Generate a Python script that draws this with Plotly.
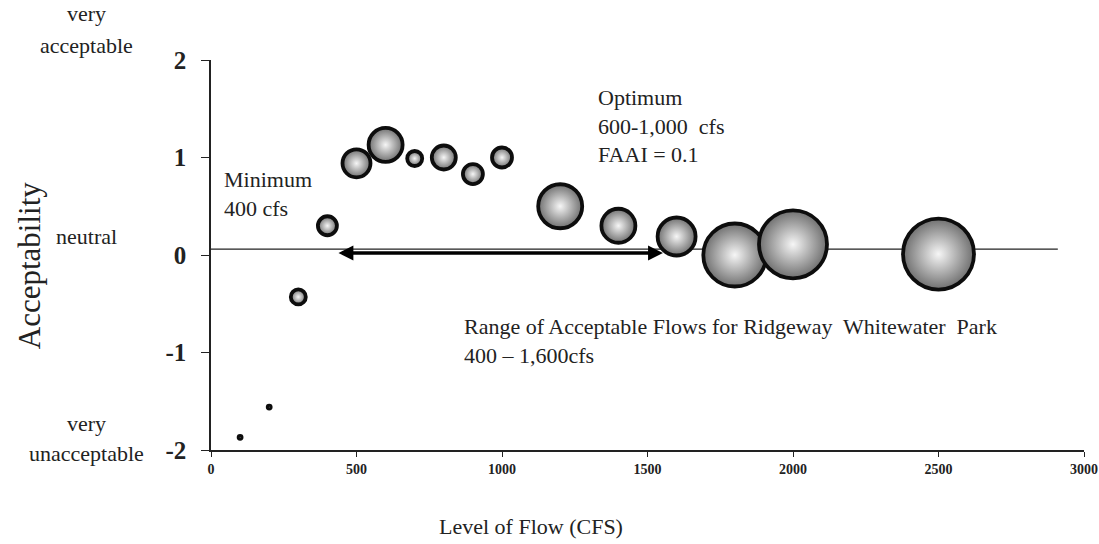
import plotly.graph_objects as go

flow_cfs = [100, 200, 300, 400, 500, 600, 700, 800, 900, 1000, 1200, 1400, 1600, 1800, 2000, 2500]
acceptability = [-1.87, -1.56, -0.43, 0.30, 0.94, 1.13, 0.99, 1.00, 0.83, 1.00, 0.50, 0.30, 0.19, 0.00, 0.11, 0.01]
bubble_value = [3, 3, 15, 19, 28, 34, 15, 24, 20, 20, 44, 34, 38, 63, 68, 71]

x_ticks = [0, 500, 1000, 1500, 2000, 2500, 3000]
y_ticks = [-2, -1, 0, 1, 2]

SERIF = "Liberation Serif, Times New Roman, serif"
TXT = "#222222"

fig = go.Figure()
fig.add_trace(go.Scatter(
    x=flow_cfs, y=acceptability, mode="markers",
    marker=dict(
        size=bubble_value, sizemode="diameter", sizeref=1,
        color="#6f6f6f",
        gradient=dict(type="radial", color="#f6f6f6"),
        line=dict(color="#0d0d0d", width=3.8),
        opacity=1,
    ),
    hoverinfo="x+y", showlegend=False,
))

# neutral reference line
fig.add_shape(type="line", xref="x", yref="y", x0=0, x1=2910, y0=0.06, y1=0.06,
              line=dict(color="#222222", width=1.2), layer="below")

# double arrow for acceptable range
fig.add_annotation(x=1553, y=0.02, ax=433, ay=0.02, xref="x", yref="y", axref="x", ayref="y",
                   showarrow=True, arrowhead=2, arrowside="end+start", arrowwidth=3.5,
                   arrowsize=0.85, arrowcolor="#000000", text="")

side_font = dict(family=SERIF, size=22, color=TXT)
side_labels = [("very", 1.118), ("acceptable", 1.038), ("neutral", 0.548),
               ("very", 0.069), ("unacceptable", -0.008)]
for txt, yy in side_labels:
    fig.add_annotation(x=-0.143, xref="paper", y=yy, yref="paper", text=txt,
                       showarrow=False, font=side_font, xanchor="center", yanchor="middle")

# axis titles
fig.add_annotation(x=-0.207, xref="paper", y=0.472, yref="paper", text="Acceptability",
                   textangle=-90, showarrow=False, font=dict(family=SERIF, size=31, color=TXT),
                   xanchor="center", yanchor="middle")
fig.add_annotation(x=0.367, xref="paper", y=-0.195, yref="paper", text="Level of Flow (CFS)",
                   showarrow=False, font=dict(family=SERIF, size=22, color=TXT),
                   xanchor="center", yanchor="middle")

in_font = dict(family=SERIF, size=22, color=TXT)
fig.add_annotation(x=38, y=0.63, xref="x", yref="y", text="Minimum<br>400 cfs",
                   showarrow=False, font=in_font, xanchor="left", yanchor="middle", align="left")
fig.add_annotation(x=1323, y=1.32, xref="x", yref="y", text="Optimum<br>600-1,000  cfs<br>FAAI = 0.1",
                   showarrow=False, font=in_font, xanchor="left", yanchor="middle", align="left")
fig.add_annotation(x=862, y=-0.88, xref="x", yref="y",
                   text="Range of Acceptable Flows for Ridgeway  Whitewater  Park<br>400 \u2013 1,600cfs",
                   showarrow=False, font=in_font, xanchor="left", yanchor="middle", align="left")

fig.update_layout(
    width=1099, height=544,
    margin=dict(l=211, r=15, t=60, b=94, autoexpand=False),
    plot_bgcolor="white", paper_bgcolor="white",
    font=dict(family=SERIF, color=TXT),
    xaxis=dict(range=[0, 3000], tickvals=x_ticks, ticktext=[f"<b>{v}</b>" for v in x_ticks],
               tickfont=dict(family=SERIF, size=14, color=TXT), ticklabeloverflow="allow",
               showline=True, linecolor="#222", linewidth=1.5, ticks="outside", ticklen=5,
               tickcolor="#222", showgrid=False, zeroline=False, automargin=False),
    yaxis=dict(range=[-2, 2], tickvals=y_ticks, ticktext=[f"<b>{v}</b>" for v in y_ticks],
               tickfont=dict(family=SERIF, size=25, color=TXT),
               showline=True, linecolor="#222", linewidth=1.5, ticks="outside", ticklen=8,
               tickcolor="#222", showgrid=False, zeroline=False, automargin=False,
               ticklabelstandoff=10),
)

fig.write_html("out.html", config={"displayModeBar": False},
               post_script="document.body.style.margin='0';document.body.style.overflow='hidden';")
